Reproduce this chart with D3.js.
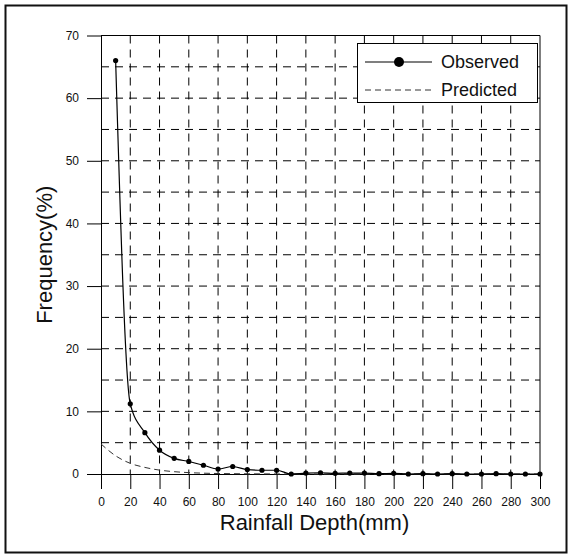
<!DOCTYPE html>
<html>
<head>
<meta charset="utf-8">
<script src="https://cdn.jsdelivr.net/npm/d3@7"></script>
<style>
  body { margin: 0; background: #fff; }
  svg { display: block; font-family: Arial, "Liberation Sans", sans-serif; }
</style>
</head>
<body>
<svg id="chart" width="572" height="558"></svg>
<script>
// observed frequency at each rainfall depth (mm)
const depth = [10, 20, 30, 40, 50, 60, 70, 80, 90, 100, 110, 120, 130, 140, 150,
  160, 170, 180, 190, 200, 210, 220, 230, 240, 250, 260, 270, 280, 290, 300];
const observed = [66, 11.2, 6.6, 3.8, 2.5, 2.0, 1.4, 0.8, 1.2, 0.7, 0.6, 0.6, 0.0, 0.15, 0.2,
  0.1, 0.15, 0.15, 0.05, 0.1, 0.0, 0.05, 0.0, 0.05, 0.0, 0.0, 0.05, 0.0, 0.0, 0.0];

// predicted curve
const predDepth = [0, 10, 20, 30, 40, 50, 60, 70, 80, 90, 100, 110, 120, 130, 140, 150,
  160, 170, 180, 190, 200, 210, 220, 230, 240, 250, 260, 270, 280, 290, 300];
const predicted = [4.8, 2.9, 1.7, 1.05, 0.62, 0.37, 0.22, 0.13, 0.08, 0.05, 0.03, 0.02, 0.01, 0, 0, 0,
  0, 0, 0, 0, 0, 0, 0, 0, 0, 0, 0, 0, 0, 0, 0];

const xTicks = [0, 20, 40, 60, 80, 100, 120, 140, 160, 180, 200, 220, 240, 260, 280, 300];
const yTicks = [0, 10, 20, 30, 40, 50, 60, 70];
const yGrid = [5, 10, 15, 20, 25, 30, 35, 40, 45, 50, 55, 60, 65];

const svg = d3.select('#chart');
const margin = { left: 101, top: 35.5, right: 540, bottom: 474 };

const x = d3.scaleLinear().domain([0, 300]).range([margin.left, margin.right]);
const y = d3.scaleLinear().domain([0, 70]).range([margin.bottom, margin.top]);

// outer frame
svg.append('rect')
  .attr('x', 5.5).attr('y', 5.5)
  .attr('width', 561).attr('height', 547)
  .attr('fill', 'none')
  .attr('stroke', '#111')
  .attr('stroke-width', 2);

// dashed grid
svg.append('g')
  .selectAll('line')
  .data(xTicks.slice(1, -1))
  .enter()
  .append('line')
  .attr('x1', d => x(d)).attr('x2', d => x(d))
  .attr('y1', y(70)).attr('y2', y(0))
  .attr('stroke', '#000')
  .attr('stroke-dasharray', '8,6');

svg.append('g')
  .selectAll('line')
  .data(yGrid)
  .enter()
  .append('line')
  .attr('x1', x(0)).attr('x2', x(300))
  .attr('y1', d => y(d)).attr('y2', d => y(d))
  .attr('stroke', '#000')
  .attr('stroke-dasharray', '8,6');

// axes
const xAxis = svg.append('g')
  .attr('transform', `translate(0,${y(0)})`)
  .call(d3.axisBottom(x).tickValues(xTicks).tickSize(15).tickPadding(8).tickSizeOuter(0));
const yAxis = svg.append('g')
  .attr('transform', `translate(${x(0)},0)`)
  .call(d3.axisLeft(y).tickValues(yTicks).tickSize(14).tickPadding(8).tickSizeOuter(0));

[xAxis, yAxis].forEach(ax => {
  ax.select('.domain').attr('stroke', '#000');
  ax.selectAll('.tick line').attr('stroke', '#000');
  ax.selectAll('.tick text')
    .attr('font-size', 12)
    .attr('fill', '#111')
    .attr('font-family', 'Arial, "Liberation Sans", sans-serif');
});

// top and right border of plot
svg.append('line')
  .attr('x1', x(0)).attr('x2', x(300))
  .attr('y1', y(70)).attr('y2', y(70))
  .attr('stroke', '#000');
svg.append('line')
  .attr('x1', x(300)).attr('x2', x(300))
  .attr('y1', y(70)).attr('y2', y(0))
  .attr('stroke', '#000');

// predicted curve
const predLine = d3.line()
  .x((d, i) => x(predDepth[i]))
  .y(d => y(d))
  .curve(d3.curveMonotoneX);

svg.append('path')
  .datum(predicted)
  .attr('d', predLine)
  .attr('fill', 'none')
  .attr('stroke', '#333')
  .attr('stroke-width', 1)
  .attr('stroke-dasharray', '6,4');

// observed curve + points
const obsLine = d3.line()
  .x((d, i) => x(depth[i]))
  .y(d => y(d))
  .curve(d3.curveMonotoneX);

svg.append('path')
  .datum(observed)
  .attr('d', obsLine)
  .attr('fill', 'none')
  .attr('stroke', '#000')
  .attr('stroke-width', 1.2);

svg.append('g')
  .selectAll('circle')
  .data(observed)
  .enter()
  .append('circle')
  .attr('cx', (d, i) => x(depth[i]))
  .attr('cy', d => y(d))
  .attr('r', 2.6)
  .attr('fill', '#000');

// axis titles
svg.append('text')
  .attr('x', (x(0) + x(300)) / 2 - 6)
  .attr('y', 530)
  .attr('text-anchor', 'middle')
  .attr('font-size', 22)
  .attr('fill', '#111')
  .text('Rainfall Depth(mm)');

svg.append('text')
  .attr('transform', `translate(52,${(y(0) + y(70)) / 2}) rotate(-90)`)
  .attr('text-anchor', 'middle')
  .attr('font-size', 22)
  .attr('fill', '#111')
  .text('Frequency(%)');

// legend
const legend = svg.append('g');
legend.append('rect')
  .attr('x', 357.5).attr('y', 43.5)
  .attr('width', 180).attr('height', 59)
  .attr('fill', '#fff')
  .attr('stroke', '#000');

legend.append('line')
  .attr('x1', 365).attr('x2', 432)
  .attr('y1', 62).attr('y2', 62)
  .attr('stroke', '#000')
  .attr('stroke-width', 1.2);
legend.append('circle')
  .attr('cx', 399).attr('cy', 62)
  .attr('r', 5)
  .attr('fill', '#000');
legend.append('line')
  .attr('x1', 365).attr('x2', 432)
  .attr('y1', 90).attr('y2', 90)
  .attr('stroke', '#333')
  .attr('stroke-dasharray', '6,4');

legend.selectAll('text')
  .data(['Observed', 'Predicted'])
  .enter()
  .append('text')
  .attr('x', 441)
  .attr('y', (d, i) => 68 + i * 28)
  .attr('font-size', 18)
  .attr('fill', '#111')
  .text(d => d);
</script>
</body>
</html>
